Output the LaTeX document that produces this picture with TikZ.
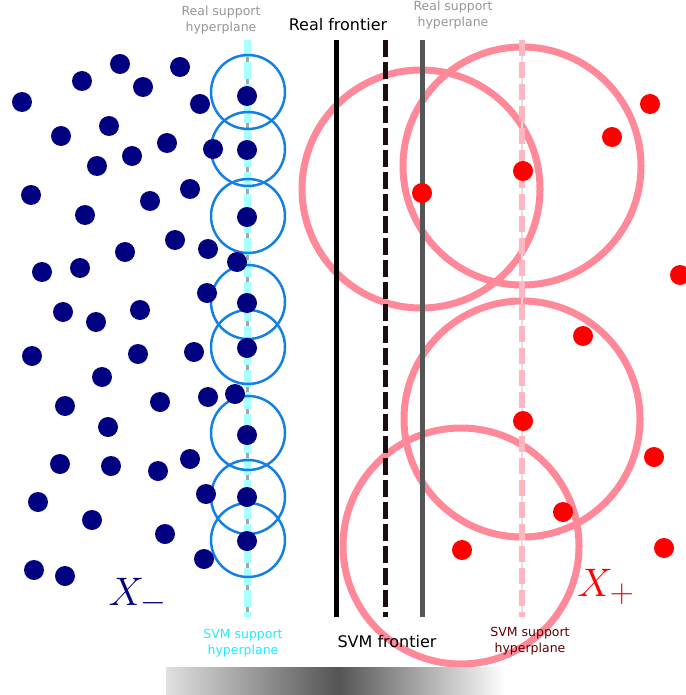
\documentclass[tikz,border=0pt]{standalone}
\usepackage{fontspec}
\setmainfont{DejaVu Sans}
\usepackage{amsmath}
\usepackage{graphicx}
\usetikzlibrary{calc}
\usepackage{xcolor}
\definecolor{navydot}{RGB}{0,0,128}
\definecolor{ballblue}{RGB}{20,128,230}
\definecolor{ballpink}{RGB}{255,136,153}
\definecolor{svmpink}{RGB}{255,182,193}
\definecolor{svmcyan}{RGB}{170,255,255}
\definecolor{svmcyantext}{RGB}{30,235,255}
\definecolor{realgray}{RGB}{85,85,85}
\definecolor{labelgray}{RGB}{150,150,150}
\definecolor{svmdark}{RGB}{26,14,14}
\definecolor{darkred}{RGB}{96,0,0}

\begin{document}
\begin{tikzpicture}[x=1pt,y=-1pt,
        negdot/.style={fill=navydot},
        posdot/.style={fill=red},
        blueball/.style={draw=ballblue,line width=2.5pt},
        pinkball/.style={draw=ballpink,line width=7pt},
        smalllab/.style={inner sep=0pt,align=center,font=\fontsize{12.5}{15.5}\selectfont},
        biglab/.style={inner sep=0pt,font=\fontsize{16}{19}\selectfont},
        setlab/.style={inner sep=0pt,font=\Huge}]
        \useasboundingbox (0,0) rectangle (685,695);

        \coordinate (T1) at (247,40);   \coordinate (B1) at (247,617);
        \coordinate (T2) at (336.5,40); \coordinate (B2) at (336.5,617);
        \coordinate (T3) at (385.5,40); \coordinate (B3) at (385.5,617);
        \coordinate (T4) at (422.5,40); \coordinate (B4) at (422.5,617);
        \coordinate (T5) at (522,40);   \coordinate (B5) at (522,617);

        % balls round the positive support points
        \draw[pinkball] (421,189) circle (119);
        \draw[pinkball] (522,166) circle (119);
        \draw[pinkball] (522,419) circle (118);
        \draw[pinkball] (461,546) circle (118);

        % frontiers
        \draw[black,line width=5pt] (T2) -- (B2);
        \draw[svmdark,line width=5pt,dash pattern=on 17pt off 5pt] (T3) -- (B3);
        \draw[realgray,line width=5pt] (T4) -- (B4);
        \draw[black!12,line width=2pt] (T5) -- (B5);
        \draw[svmpink,line width=6pt,dash pattern=on 16pt off 6pt] (T5) -- (B5);
        \draw[black!35,line width=3pt] (T1) -- (B1);
        \draw[svmcyan,line width=7pt,dash pattern=on 17pt off 5pt] (T1) -- (B1);

        % balls round the negative support points
        \draw[blueball] (248,92) circle (37);
        \draw[blueball] (248,149) circle (37);
        \draw[blueball] (248,216) circle (37);
        \draw[blueball] (248,302) circle (37);
        \draw[blueball] (248,347) circle (37);
        \draw[blueball] (248,433) circle (37);
        \draw[blueball] (248,497) circle (37);
        \draw[blueball] (248,540) circle (37);

        % negative points
        \foreach \px/\py in {22/102,82/81,120/64,143/87,180/67,200/104,61/136,109/126,
                132/156,97/166,167/143,213/149,31/195,85/215,150/201,190/189,175/240,
                208/249,237/262,125/252,42/272,80/268,207/293,63/312,96/322,140/310,
                32/356,138/354,194/352,102/377,65/406,160/402,208/397,235/394,108/427,
                60/464,111/466,158/471,190/459,206/494,38/502,92/520,165/534,204/559,
                34/570,65/576,
                247/96,247/150,247/217,247/303,247/348,247/435,247/497,247/541}
            \fill[negdot] (\px,\py) circle (10);

        % positive points
        \foreach \px/\py in {422/193,523/171,612/137,650/104,680/275,583/336,523/421,
                654/457,563/512,462/550,664/548}
            \fill[posdot] (\px,\py) circle (10);

        % labels
        \node[smalllab,text=labelgray] (realsupL) at (221,20) {Real support\\hyperplane};
        \node[biglab] (realfront) at (338,25) {Real frontier};
        \node[smalllab,text=labelgray] (realsupR) at (453,15) {Real support\\hyperplane};
        \node[smalllab,text=svmcyantext] (svmsupL) at (243,643) {SVM support\\hyperplane};
        \node[biglab] (svmfront) at (387,642) {SVM frontier};
        \node[smalllab,text=darkred] (svmsupR) at (530,641) {SVM support\\hyperplane};
        \node[setlab,text=navydot] (xminus) at (138,596) {\scalebox{1.6}{$X_-$}};
        \node[setlab,text=red] (xplus) at (606,587) {\scalebox{1.6}{$X_+$}};

        % shade under the frontiers
        \shade[left color=black!12,right color=black!67] (166,667) rectangle (338,695);
        \shade[left color=black!67,right color=white] (338,667) rectangle (505,695);
    \end{tikzpicture}
\end{document}
